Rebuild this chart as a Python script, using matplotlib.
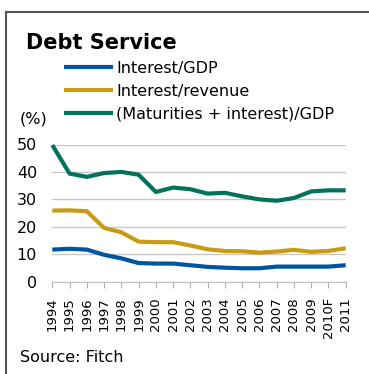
import matplotlib.pyplot as plt
from matplotlib.lines import Line2D

# data
years = ['1994', '1995', '1996', '1997', '1998', '1999', '2000', '2001', '2002',
         '2003', '2004', '2005', '2006', '2007', '2008', '2009', '2010F', '2011']
interest_gdp = [11.7, 12.0, 11.7, 9.8, 8.5, 6.8, 6.6, 6.6, 6.0,
                5.4, 5.1, 4.9, 4.9, 5.5, 5.5, 5.5, 5.5, 6.0]
interest_rev = [25.9, 26.0, 25.7, 19.6, 18.0, 14.6, 14.4, 14.4, 13.2,
                11.8, 11.2, 11.1, 10.6, 11.0, 11.6, 10.9, 11.2, 12.2]
maturities_gdp = [49.8, 39.4, 38.2, 39.6, 40.0, 39.0, 32.7, 34.3, 33.7,
                  32.1, 32.4, 31.1, 30.0, 29.5, 30.5, 32.9, 33.3, 33.3]
labels = ['Interest/GDP', 'Interest/revenue', '(Maturities + interest)/GDP']
colors = ['#0055a0', '#c99a14', '#00735a']

plt.rcParams['font.family'] = 'DejaVu Sans'

W, H = 369, 374
fig = plt.figure(figsize=(W / 100, H / 100), dpi=100)
ax = fig.add_axes([52.3 / W, 1 - 281.7 / H, (345.7 - 52.3) / W, (281.7 - 144.5) / H])

x = list(range(len(years)))
for vals, lab, c in zip([interest_gdp, interest_rev, maturities_gdp], labels, colors):
    ax.plot(x, vals, color=c, lw=3.0, label=lab, clip_on=False, solid_capstyle='butt')

ax.set_xlim(0, len(years) - 1)
ax.set_ylim(0, 50)
ax.set_yticks([0, 10, 20, 30, 40, 50])
ax.set_xticks(x)
ax.set_xticklabels(years, rotation=90, fontsize=9.5)
ax.tick_params(axis='y', length=0, labelsize=11.5, pad=11)
ax.tick_params(axis='x', length=4, color='#b0b0b0', pad=7)
ax.grid(axis='y', color='#c8c8c8', lw=1.0)
ax.set_axisbelow(True)
for s in ['top', 'right', 'left']:
    ax.spines[s].set_visible(False)
ax.spines['bottom'].set_color('#c0c0c0')

leg = ax.legend(loc='upper left', bbox_to_anchor=(64 / W, 1 - 61 / H),
                bbox_transform=fig.transFigure, frameon=False, fontsize=11.5,
                handlelength=3.05, handletextpad=0.2, labelspacing=0.48,
                borderpad=0, borderaxespad=0)

fig.text(26 / W, 1 - 43 / H, 'Debt Service', fontsize=15, fontweight='bold', va='center')
fig.text(20 / W, 1 - 119 / H, '(%)', fontsize=11.5, va='center')
fig.text(20 / W, 1 - 358 / H, 'Source: Fitch', fontsize=11.5, va='center')

# frame around the panel
fig.add_artist(Line2D([6 / W, 1], [1 - 11.5 / H, 1 - 11.5 / H], color='#555555', lw=1.5))
fig.add_artist(Line2D([6.5 / W, 6.5 / W], [0, 1 - 11.5 / H], color='#555555', lw=1.5))

fig.savefig('out.png', dpi=100)
